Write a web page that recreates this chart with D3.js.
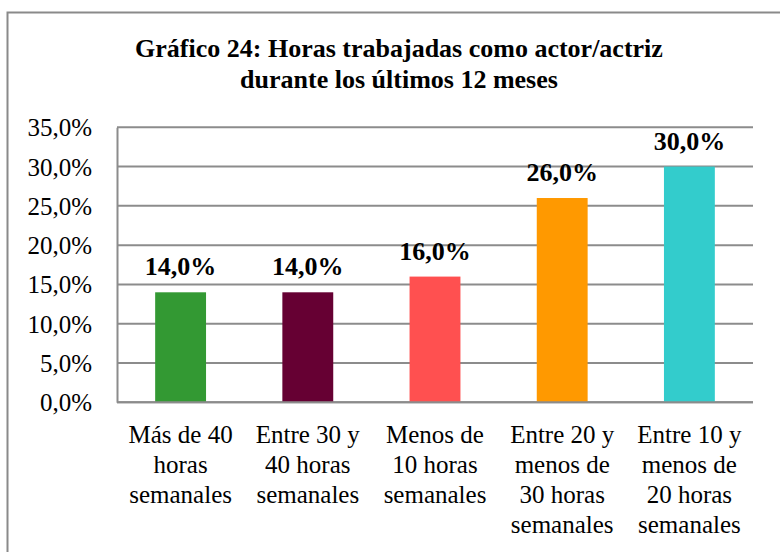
<!DOCTYPE html>
<html>
<head>
<meta charset="utf-8">
<script src="https://cdn.jsdelivr.net/npm/d3@7"></script>
<style>
  html, body { margin: 0; padding: 0; background: #fff; }
  svg { display: block; }
  text { font-family: "Liberation Serif", "Times New Roman", serif; fill: #000; }
</style>
</head>
<body>
<svg id="chart" width="780" height="552"></svg>
<script>
const titleLines = ["Gráfico 24: Horas trabajadas como actor/actriz", "durante los últimos 12 meses"];
const categories = ["Más de 40 horas semanales", "Entre 30 y 40 horas semanales", "Menos de 10 horas semanales", "Entre 20 y menos de 30 horas semanales", "Entre 10 y menos de 20 horas semanales"];
const values = [14.0, 14.0, 16.0, 26.0, 30.0];
const colors = ["#339933", "#660033", "#FF5050", "#FF9900", "#33CCCC"];
const yTicks = [0, 5, 10, 15, 20, 25, 30, 35];

const svg = d3.select("#chart");
const W = 780, H = 552;
const plot = { left: 117, right: 753, top: 127.3, bottom: 402.3 };

// outer frame (top and left edges visible)
svg.append("rect").attr("x", 7.5).attr("y", 12.5).attr("width", 800).attr("height", 600)
  .attr("fill", "none").attr("stroke", "#8a8a8a").attr("stroke-width", 2);

// title
const title = svg.append("text").attr("text-anchor", "middle")
  .attr("font-size", 26).attr("font-weight", "bold");
titleLines.forEach((t, i) => {
  title.append("tspan").attr("x", 399).attr("y", 57 + i * 31).text(t);
});

const x = d3.scaleBand().domain(categories).range([plot.left, plot.right])
  .paddingInner(0.6).paddingOuter(0.3);
const y = d3.scaleLinear().domain([0, 35]).range([plot.bottom, plot.top]);

const fmt = v => d3.format(".1f")(v).replace(".", ",") + "%";

// gridlines
svg.append("g").selectAll("line").data(yTicks).join("line")
  .attr("x1", plot.left).attr("x2", plot.right)
  .attr("y1", d => y(d)).attr("y2", d => y(d))
  .attr("stroke", "#8c8c8c").attr("stroke-width", 2);

// y axis
const yAxis = d3.axisLeft(y).tickValues(yTicks).tickSize(0).tickPadding(25).tickFormat(fmt);
const gy = svg.append("g").attr("transform", `translate(${plot.left},0)`).call(yAxis);
gy.select(".domain").attr("stroke", "#8c8c8c").attr("stroke-width", 2);
gy.selectAll("text").attr("font-size", 25).attr("font-family", "Liberation Serif, serif")
  .attr("dy", "0.34em");

// bars
svg.append("g").selectAll("rect").data(values).join("rect")
  .attr("x", (d, i) => x(categories[i]))
  .attr("width", x.bandwidth())
  .attr("y", d => y(d))
  .attr("height", d => y(0) - y(d))
  .attr("fill", (d, i) => colors[i]);

// redraw baseline on top
svg.append("line").attr("x1", plot.left).attr("x2", plot.right)
  .attr("y1", y(0)).attr("y2", y(0)).attr("stroke", "#8c8c8c").attr("stroke-width", 2);

// value labels
svg.append("g").selectAll("text").data(values).join("text")
  .attr("x", (d, i) => x(categories[i]) + x.bandwidth() / 2)
  .attr("y", d => y(d) - 17)
  .attr("text-anchor", "middle").attr("font-size", 26).attr("font-weight", "bold")
  .text(d => fmt(d));

// x category labels, word-wrapped
const xl = svg.append("g");
categories.forEach((c, i) => {
  const cx = x(c) + x.bandwidth() / 2;
  const t = xl.append("text").attr("text-anchor", "middle").attr("font-size", 25);
  const words = c.split(" ");
  let lines = [], cur = [];
  const probe = svg.append("text").attr("font-size", 25);
  words.forEach(w => {
    const test = cur.concat([w]).join(" ");
    probe.text(test);
    if (cur.length && probe.node().getComputedTextLength() > 116) {
      lines.push(cur.join(" "));
      cur = [w];
    } else cur.push(w);
  });
  lines.push(cur.join(" "));
  probe.remove();
  lines.forEach((l, j) => {
    t.append("tspan").attr("x", cx).attr("y", y(0) + 41 + j * 30).text(l);
  });
});
</script>
</body>
</html>
